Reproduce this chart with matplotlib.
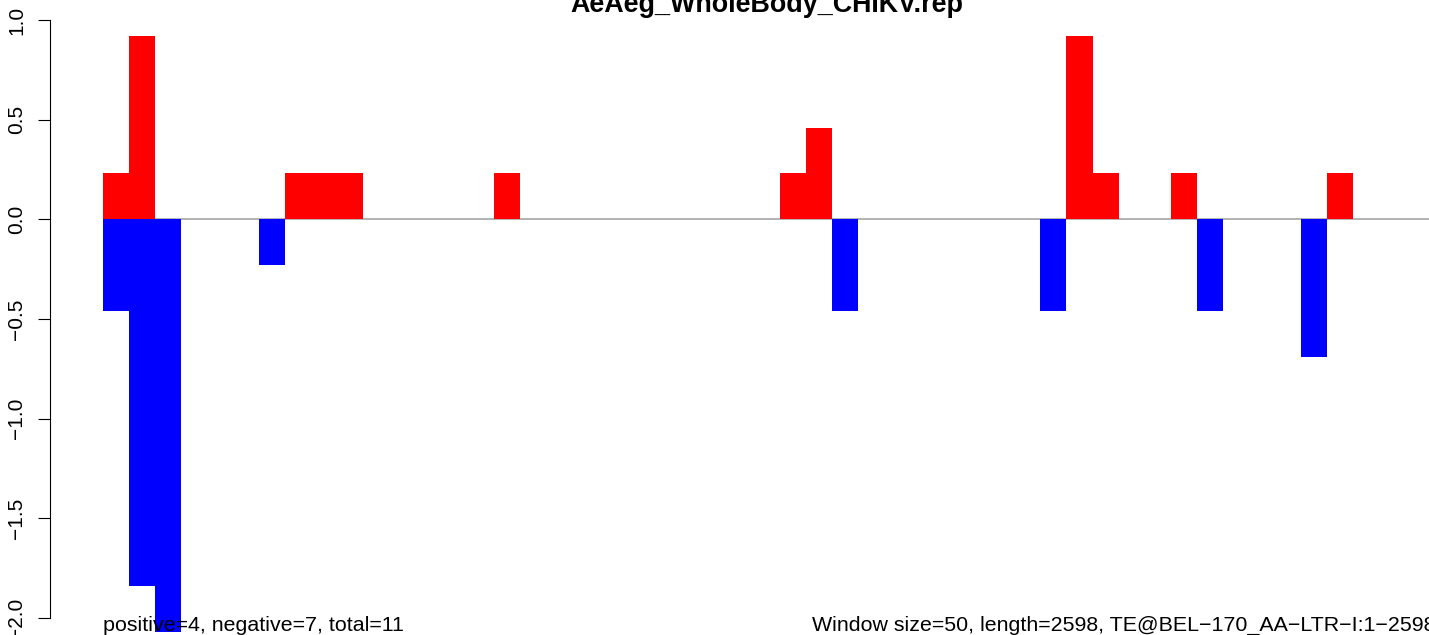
import matplotlib
matplotlib.use("Agg")
import matplotlib.pyplot as plt
import numpy as np

# datos de la grafica (ventanas de 50 pb)
window = 50
length = 2598
titulo = "AeAeg_WholeBody_CHIKV.rep"
texto_izq = "positive=4, negative=7, total=11"
texto_der = "Window size=50, length=2598, TE@BEL\u2212170_AA\u2212LTR\u2212I:1\u22122598"

pos_bins = [0, 1, 7, 8, 9, 15, 26, 27, 37, 38, 41, 47]
pos_vals = [0.23, 0.92, 0.23, 0.23, 0.23, 0.23, 0.23, 0.46, 0.92, 0.23, 0.23, 0.23]
neg_bins = [0, 1, 2, 6, 28, 36, 42, 46]
neg_vals = [-0.46, -1.84, -2.07, -0.23, -0.46, -0.46, -0.46, -0.69]

y_ticks = [-2.0, -1.5, -1.0, -0.5, 0.0, 0.5, 1.0]

plt.rcParams['font.family'] = ['Liberation Sans', 'DejaVu Sans']

fig = plt.figure(figsize=(14.29, 6.35), dpi=100)
ax = fig.add_axes([0, 0, 1, 1])
ax.patch.set_visible(False)

# linea del cero (debajo de las barras)
ax.hlines(0, 0, length, color='#A6A6A6', linewidth=1.2, zorder=1)

x_pos = np.array(pos_bins) * window
x_neg = np.array(neg_bins) * window
ax.bar(x_pos, pos_vals, width=window, align='edge', color='red', linewidth=0, zorder=2)
ax.bar(x_neg, neg_vals, width=window, align='edge', color='blue', linewidth=0, zorder=2)

# limites para que coincida con el recorte original
px_bp = 26.04 / window
x0_px = 103
y0_px = 219.3
py_unit = 199.33
ax.set_xlim((0 - x0_px) / px_bp, (1429 - x0_px) / px_bp)
ax.set_ylim((y0_px - 635) / py_unit, (y0_px - 0) / py_unit)

for lado in ['top', 'right', 'bottom']:
    ax.spines[lado].set_visible(False)
ax.spines['left'].set_position(('data', (50 - x0_px) / px_bp))
ax.spines['left'].set_bounds(-2, 1)
ax.spines['left'].set_linewidth(0.8)
ax.set_xticks([])
ax.set_yticks(y_ticks)
ax.set_yticklabels([f"{v:.1f}".replace('-', '\u2212') for v in y_ticks])
ax.tick_params(axis='y', direction='out', length=8.6, width=0.8, pad=8.5,
               labelsize=15, labelrotation=90)
for lab in ax.get_yticklabels():
    lab.set_verticalalignment('center')

# textos de abajo
y_txt = (y0_px - 631) / py_unit
ax.text(0, y_txt, texto_izq, ha='left', va='baseline', fontsize=15.4, clip_on=False)
ax.text((812 - x0_px) / px_bp, y_txt, texto_der, ha='left', va='baseline',
        fontsize=15.4, clip_on=False)

# titulo (cortado arriba, igual que la original)
fig.text(767 / 1429, (635 - 11.7) / 635, titulo, ha='center', va='baseline',
         fontsize=19.4, fontweight='bold')

fig.savefig('out.png', dpi=100)
